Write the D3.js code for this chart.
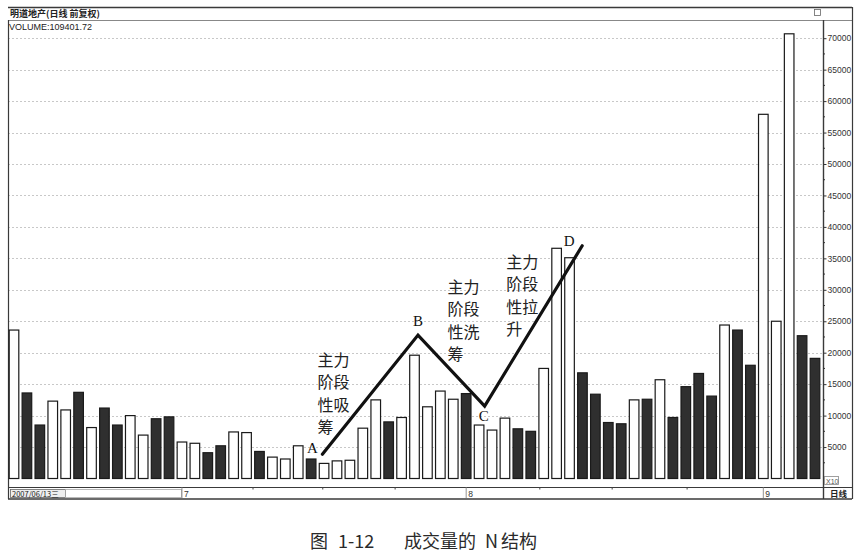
<!DOCTYPE html>
<html>
<head>
<meta charset="utf-8">
<script src="https://cdn.jsdelivr.net/npm/d3@7.9.0/dist/d3.min.js"></script>
<style>
  html, body { margin: 0; padding: 0; background: #fff; }
  svg { display: block; }
</style>
</head>
<body>
<div id="chart"></div>
<script>
// daily volume, 2007/06/13 onward (one value per trading day)
const volumes = [
    23600, 13600, 8500, 12300, 10900, 13700, 8100, 11200, 8500, 10000,
    6900, 9500, 9800, 5800, 5600, 4100, 5200, 7400, 7300, 4300,
    3400, 3100, 5200, 3100, 2400, 2800, 2900, 8000, 12500, 9000,
    9700, 19600, 11400, 13900, 12600, 13500, 8500, 7700, 9600, 7900,
    7500, 17500, 36600, 35100, 16800, 13400, 8900, 8700, 12500, 12600,
    15700, 9700, 14600, 16700, 13100, 24400, 23600, 18000, 57900, 25000,
    70700, 22700, 19100
];
// 1 = up day (hollow bar), 0 = down day (filled bar)
const upDays = [
    1, 0, 0, 1, 1, 0, 1, 0, 0, 1,
    1, 0, 0, 1, 1, 0, 0, 1, 1, 0,
    1, 1, 1, 0, 1, 1, 1, 1, 1, 0,
    1, 1, 1, 1, 1, 0, 1, 1, 1, 0,
    0, 1, 1, 1, 0, 0, 0, 0, 1, 0,
    1, 0, 0, 0, 0, 1, 0, 0, 1, 1,
    1, 0, 0
];
const yTicks = d3.range(5000, 70001, 5000);
const monthLabels = [
    { index: 13, label: "7" },
    { index: 35, label: "8" },
    { index: 58, label: "9" }
];
const minorDayTicks = [18.5, 23.9, 29.5, 40.7, 46.3, 52.1];

// N structure: [bar position, volume]
const nPoints = [
    { name: "A", index: 23.87, value: 3850 },
    { name: "B", index: 31.27, value: 22800 },
    { name: "C", index: 36.43, value: 11500 },
    { name: "D", index: 43.98, value: 37000 }
];
const phaseNotes = [
    { lines: ["主力", "阶段", "性吸", "筹"], index: 23.5, value: 17900 },
    { lines: ["主力", "阶段", "性洗", "筹"], index: 33.55, value: 29500 },
    { lines: ["主力", "阶段", "性拉", "升"], index: 38.1, value: 33500 }
];
const titleText = "明道地产(日线 前复权)";
const volumeText = "VOLUME:109401.72";
const startDate = "2007/06/13三";
const captionParts = [
    { text: "图", x: 310 },
    { text: "1-12", x: 338 },
    { text: "成交量的", x: 404 },
    { text: "N", x: 485 },
    { text: "结构", x: 501 }
];

const width = 863;
const height = 560;
const plot = { left: 8, right: 823, top: 20, bottom: 487, frameRight: 852 };

const svg = d3.select("#chart")
    .append("svg")
    .attr("width", width)
    .attr("height", height);

const xScale = d3.scaleLinear()
    .domain([0, volumes.length - 1])
    .range([14, 815]);
const yScale = d3.scaleLinear()
    .domain([0, 70000])
    .range([478.5, 38.2]);

const barWidth = 9.6;

/* grid lines */
svg.append("g")
    .selectAll("line")
    .data(yTicks)
    .join("line")
    .attr("x1", plot.left)
    .attr("x2", plot.right)
    .attr("y1", d => Math.round(yScale(d)) + 0.5)
    .attr("y2", d => Math.round(yScale(d)) + 0.5)
    .attr("stroke", "#c8c8c8")
    .attr("stroke-width", 1)
    .attr("stroke-dasharray", "2,2");

/* frame */
const frame = svg.append("g").attr("stroke", "#3a3a3a").attr("fill", "none");
frame.append("line").attr("x1", plot.left).attr("x2", plot.frameRight)
    .attr("y1", 7.5).attr("y2", 7.5).attr("stroke-width", 1.6);
frame.append("line").attr("x1", plot.left).attr("x2", plot.frameRight)
    .attr("y1", 20.5).attr("y2", 20.5).attr("stroke", "#888").attr("stroke-width", 1);
frame.append("line").attr("x1", plot.left + 0.5).attr("x2", plot.left + 0.5)
    .attr("y1", 20).attr("y2", 499).attr("stroke-width", 1.2);
frame.append("line").attr("x1", plot.right + 0.5).attr("x2", plot.right + 0.5)
    .attr("y1", 20).attr("y2", 499).attr("stroke-width", 1.4);
frame.append("line").attr("x1", plot.frameRight + 0.5).attr("x2", plot.frameRight + 0.5)
    .attr("y1", 7).attr("y2", 499).attr("stroke-width", 1.2);
frame.append("line").attr("x1", plot.left).attr("x2", plot.frameRight)
    .attr("y1", plot.bottom + 0.5).attr("y2", plot.bottom + 0.5).attr("stroke-width", 1.2);
frame.append("line").attr("x1", plot.left).attr("x2", plot.frameRight)
    .attr("y1", 499).attr("y2", 499).attr("stroke-width", 1.4);

// small restore icon in the header
svg.append("rect")
    .attr("x", 814.5).attr("y", 9.5).attr("width", 6).attr("height", 6)
    .attr("fill", "none").attr("stroke", "#666").attr("stroke-width", 0.8);

svg.append("text")
    .attr("x", 10).attr("y", 17)
    .attr("font-family", "Noto Sans CJK SC, sans-serif")
    .attr("font-size", 9).attr("font-weight", "bold")
    .attr("fill", "#222")
    .text(titleText);
svg.append("text")
    .attr("x", 9).attr("y", 30)
    .attr("font-family", "Liberation Sans, Arial, sans-serif")
    .attr("font-size", 9)
    .attr("fill", "#222")
    .text(volumeText);

/* volume bars */
svg.append("g")
    .selectAll("rect")
    .data(volumes)
    .join("rect")
    .attr("x", (d, i) => xScale(i) - barWidth / 2)
    .attr("y", d => yScale(d))
    .attr("width", barWidth)
    .attr("height", d => yScale(0) - yScale(d))
    .attr("fill", (d, i) => upDays[i] ? "#fff" : "#2f2f2f")
    .attr("stroke", "#1a1a1a")
    .attr("stroke-width", 1.2);

/* right value axis */
const yAxis = d3.axisRight(yScale)
    .tickValues(yTicks)
    .tickSize(3)
    .tickPadding(1)
    .tickFormat(d3.format("d"));
const yAxisG = svg.append("g")
    .attr("transform", `translate(${plot.right + 0.5},0)`)
    .call(yAxis);
yAxisG.select(".domain").remove();
yAxisG.selectAll("text")
    .attr("font-family", "Liberation Sans, Arial, sans-serif")
    .attr("font-size", 8.5)
    .attr("fill", "#333");
yAxisG.selectAll("line").attr("stroke", "#333");
svg.append("g")
    .selectAll("line")
    .data(yTicks.map(t => t - 2500))
    .join("line")
    .attr("x1", plot.right)
    .attr("x2", plot.right + 2)
    .attr("y1", d => yScale(d))
    .attr("y2", d => yScale(d))
    .attr("stroke", "#333");

/* bottom date strip */
svg.append("rect")
    .attr("x", 10.5).attr("y", 489.5).attr("width", 55).attr("height", 8)
    .attr("fill", "#eee").attr("stroke", "#666").attr("stroke-width", 0.8);
svg.append("rect")
    .attr("x", 65.5).attr("y", 489.5).attr("width", xScale(13) - 66).attr("height", 8)
    .attr("fill", "none").attr("stroke", "#aaa").attr("stroke-width", 0.8);
svg.append("text")
    .attr("x", 12).attr("y", 496.5)
    .attr("font-family", "Noto Sans CJK SC, sans-serif")
    .attr("font-size", 7.5)
    .attr("fill", "#222")
    .text(startDate);

const monthG = svg.append("g")
    .selectAll("g")
    .data(monthLabels)
    .join("g")
    .attr("transform", d => `translate(${xScale(d.index)},0)`);
monthG.append("line")
    .attr("y1", plot.bottom).attr("y2", 498)
    .attr("stroke", "#777").attr("stroke-width", 0.8);
monthG.append("text")
    .attr("x", 2).attr("y", 497)
    .attr("font-family", "Liberation Sans, Arial, sans-serif")
    .attr("font-size", 8.5)
    .attr("fill", "#333")
    .text(d => d.label);

svg.append("g")
    .selectAll("line")
    .data(minorDayTicks)
    .join("line")
    .attr("x1", d => xScale(d))
    .attr("x2", d => xScale(d))
    .attr("y1", plot.bottom)
    .attr("y2", plot.bottom + 2.5)
    .attr("stroke", "#444");

// x10 and 日线 boxes
svg.append("rect")
    .attr("x", 824.5).attr("y", 476.5).attr("width", 14).attr("height", 8)
    .attr("fill", "#fff").attr("stroke", "#888").attr("stroke-width", 0.8);
svg.append("text")
    .attr("x", 826).attr("y", 483.5)
    .attr("font-family", "Liberation Sans, Arial, sans-serif")
    .attr("font-size", 7).attr("fill", "#555")
    .text("X10");
svg.append("text")
    .attr("x", 830).attr("y", 497)
    .attr("font-family", "Noto Sans CJK SC, sans-serif")
    .attr("font-size", 8.5).attr("font-weight", "bold").attr("fill", "#222")
    .text("日线");

/* N structure line */
const nLine = d3.line()
    .x(d => xScale(d.index))
    .y(d => yScale(d.value));
svg.append("path")
    .datum(nPoints)
    .attr("d", nLine)
    .attr("fill", "none")
    .attr("stroke", "#111")
    .attr("stroke-width", 3.2)
    .attr("stroke-linejoin", "miter")
    .attr("stroke-linecap", "round");

const letterOffsets = { A: [-10, -1], B: [0, -9], C: [-1, 15], D: [-13, 0] };
svg.append("g")
    .selectAll("text")
    .data(nPoints)
    .join("text")
    .attr("x", d => xScale(d.index) + letterOffsets[d.name][0])
    .attr("y", d => yScale(d.value) + letterOffsets[d.name][1])
    .attr("text-anchor", "middle")
    .attr("font-family", "Liberation Serif, DejaVu Serif, serif")
    .attr("font-size", 15)
    .attr("fill", "#111")
    .text(d => d.name);

const notes = svg.append("g")
    .selectAll("text")
    .data(phaseNotes)
    .join("text")
    .attr("font-family", "Noto Sans CJK SC, sans-serif")
    .attr("font-size", 16)
    .attr("fill", "#222");
notes.selectAll("tspan")
    .data(d => d.lines.map((t, k) => ({ t, k, note: d })))
    .join("tspan")
    .attr("x", d => xScale(d.note.index))
    .attr("y", d => yScale(d.note.value) + d.k * 22.5)
    .text(d => d.t);

/* caption */
svg.append("g")
    .selectAll("text")
    .data(captionParts)
    .join("text")
    .attr("x", d => d.x)
    .attr("y", 548)
    .attr("font-family", "Noto Sans CJK SC, sans-serif")
    .attr("font-size", 18)
    .attr("fill", "#2a2a2a")
    .text(d => d.text);
</script>
</body>
</html>
